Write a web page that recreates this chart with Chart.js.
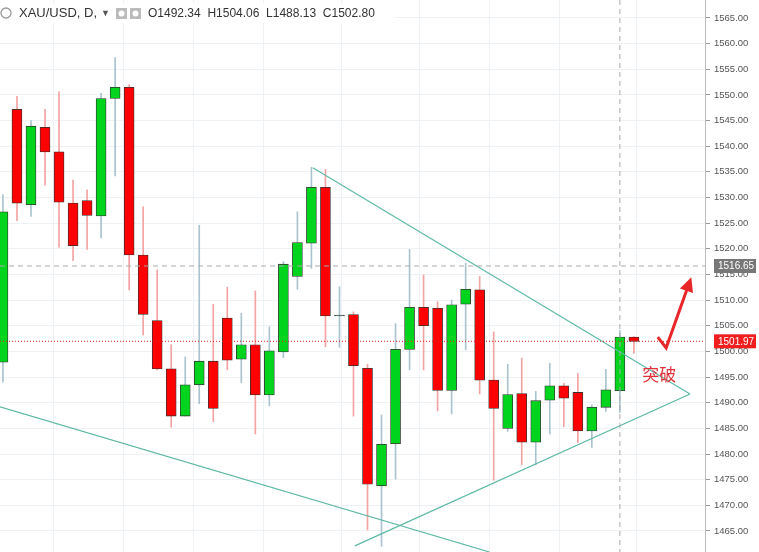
<!DOCTYPE html>
<html><head><meta charset="utf-8">
<script src="https://cdn.jsdelivr.net/npm/chart.js@4"></script>
<style>html,body{margin:0;padding:0;background:#fff}#w{width:759px;height:552px;position:relative}</style>
</head><body><div id="w"><canvas id="c"></canvas></div>
<script>
const opens  = [1497.9,1547.2,1528.6,1543.7,1538.9,1528.9,1529.4,1526.4,1549.3,1551.5,1518.8,1506.0,1496.6,1487.4,1493.5,1498.1,1506.5,1498.5,1501.3,1491.5,1499.9,1514.6,1521.1,1532.0,1507.0,1507.2,1496.7,1473.8,1482.0,1500.4,1508.6,1508.4,1492.4,1509.2,1512.0,1494.4,1485.0,1491.8,1482.3,1490.5,1493.3,1492.0,1484.5,1489.1,1492.34,1502.80];
const closes = [1527.2,1528.9,1543.9,1538.9,1529.1,1520.6,1526.5,1549.3,1551.5,1518.8,1507.2,1496.6,1487.4,1493.5,1498.1,1488.9,1498.3,1501.3,1491.5,1500.1,1517.0,1521.2,1532.0,1506.9,1507.0,1497.2,1474.1,1481.9,1500.4,1508.6,1505.0,1492.4,1509.1,1512.1,1494.4,1488.9,1491.6,1482.3,1490.4,1493.3,1490.9,1484.5,1489.1,1492.5,1502.80,1501.97];
const highs  = [1530.5,1549.7,1545.0,1547.2,1550.6,1533.4,1531.5,1550.3,1557.3,1552.0,1528.2,1515.9,1501.3,1498.9,1524.6,1509.2,1512.5,1507.4,1511.8,1504.8,1517.5,1527.2,1535.9,1535.5,1512.6,1507.7,1497.5,1487.6,1505.4,1519.9,1514.9,1509.7,1510.0,1517.2,1514.6,1503.8,1497.5,1498.7,1492.2,1497.7,1493.8,1495.7,1489.6,1496.5,1504.06,1502.9];
const lows   = [1494.0,1525.5,1526.3,1532.4,1520.3,1517.7,1519.9,1522.1,1534.2,1512.0,1503.2,1496.4,1485.2,1487.4,1489.8,1486.3,1496.4,1493.9,1483.9,1489.4,1498.8,1512.1,1516.2,1500.9,1500.8,1487.4,1465.2,1462.0,1475.1,1496.4,1496.4,1488.4,1487.8,1500.3,1491.7,1474.9,1484.4,1477.9,1477.9,1483.9,1485.3,1482.2,1481.3,1488.3,1488.13,1499.6];
const upperLine = [{x:22.1,y:1535.8},{x:49.0,y:1491.7}];
const lowerLine = [{x:25.1,y:1462.1},{x:49.0,y:1491.7}];
const longLine  = [{x:-0.21,y:1489.2},{x:34.7,y:1460.9}];
const arrowPts  = [{x:46.7,y:1502.8},{x:47.3,y:1500.7},{x:48.9,y:1513.0}];
const lastPrice = 1501.97, markPrice = 1516.65, markIndex = 44;
const yTicks = [];for(let v=1465;v<=1565;v+=5)yTicks.push(v);

const bodyColors = opens.map((o,i)=> closes[i]>o?'#00d41c':(closes[i]<o?'#ff0000':'#2f5f4f'));
const wickColors = opens.map((o,i)=> closes[i]>=o?'#a9c4cf':'#f4a3a3');
const bodies = opens.map((o,i)=>({x:i,y: Math.abs(o-closes[i])<0.2?[o-0.1,o+0.1]:[o,closes[i]]}));
const wicks = opens.map((o,i)=>({x:i,y:[lows[i],highs[i]]}));

const overlay = {id:'ov',
 afterDatasetsDraw(ch){
  const c=ch.ctx,xs=ch.scales.x,ys=ch.scales.y,a=ch.chartArea;
  c.save();
  c.setLineDash([5,4]);c.strokeStyle='#aaa';c.lineWidth=1;
  let y=ys.getPixelForValue(markPrice);
  c.beginPath();c.moveTo(a.left,y);c.lineTo(a.right,y);c.stroke();
  let x=xs.getPixelForValue(markIndex);
  c.beginPath();c.moveTo(x,a.top);c.lineTo(x,a.bottom);c.stroke();
  c.setLineDash([1,2]);c.strokeStyle='#e0201c';
  y=ys.getPixelForValue(lastPrice);
  c.beginPath();c.moveTo(a.left,y);c.lineTo(a.right,y);c.stroke();
  c.setLineDash([]);
  const p1=arrowPts[1],p2=arrowPts[2];
  const x1=xs.getPixelForValue(p1.x),y1=ys.getPixelForValue(p1.y),x2=xs.getPixelForValue(p2.x),y2=ys.getPixelForValue(p2.y);
  const ang=Math.atan2(y2-y1,x2-x1);
  c.fillStyle='#e8262a';c.beginPath();
  const tx=x2+Math.cos(ang)*8,ty=y2+Math.sin(ang)*8;
  c.moveTo(tx,ty);
  c.lineTo(tx-Math.cos(ang-0.45)*16,ty-Math.sin(ang-0.45)*16);
  c.lineTo(tx-Math.cos(ang+0.45)*16,ty-Math.sin(ang+0.45)*16);
  c.closePath();c.fill();
  c.fillStyle='#e0313a';c.font='17px "Noto Sans CJK SC"';c.textBaseline='middle';
  c.fillText('突破',xs.getPixelForValue(45.6),ys.getPixelForValue(1495.5));
  c.font='10px "Liberation Sans", Arial';
  const box=(v,col,txt)=>{const yy=ys.getPixelForValue(v);c.fillStyle=col;c.fillRect(a.right+9,yy-7,42,14);c.fillStyle=txt;c.fillText(v.toFixed(2),a.right+13,yy+0.5);};
  box(markPrice,'#777','#fff');box(lastPrice,'#f01e1e','#fff');
  c.strokeStyle='#bbb';c.beginPath();c.moveTo(a.right+0.5,0);c.lineTo(a.right+0.5,552);c.stroke();
  c.fillStyle='#fff';c.fillRect(0,3,395,20);
  c.strokeStyle='#999';c.lineWidth=1.3;c.beginPath();c.arc(6,13,5,0,Math.PI*2);c.stroke();
  c.fillStyle='#333';c.font='13px "Liberation Sans", Arial';c.textBaseline='middle';
  c.fillText('XAU/USD, D, ',19,13);
  c.fillStyle='#555';c.font='9px "Liberation Sans", Arial';c.fillText('▼',101,14);
  c.fillStyle='#bbb';c.fillRect(116,8,11,11);c.fillRect(130,8,11,11);
  c.fillStyle='#fff';c.beginPath();c.arc(121.5,13.5,3,0,7);c.fill();c.beginPath();c.arc(135.5,13.5,3,0,7);c.fill();
  c.fillStyle='#333';c.font='12px "Liberation Sans", Arial';
  c.fillText('O1492.34  H1504.06  L1488.13  C1502.80',148,14);
  c.restore();
 }};

new Chart(document.getElementById('c'),{
 data:{datasets:[
  {type:'bar',data:wicks,backgroundColor:wickColors,barThickness:1,grouped:false,order:3},
  {type:'bar',data:bodies,backgroundColor:bodyColors,borderColor:'#333',borderWidth:0.8,borderSkipped:false,barThickness:10,grouped:false,order:2},
  {type:'line',data:upperLine,borderColor:'#5fb8a6',borderWidth:1.2,pointRadius:0,order:1},
  {type:'line',data:lowerLine,borderColor:'#5fb8a6',borderWidth:1.2,pointRadius:0,order:1},
  {type:'line',data:longLine,borderColor:'#5fb8a6',borderWidth:1.2,pointRadius:0,order:1},
  {type:'line',data:arrowPts,borderColor:'#e8262a',borderWidth:3,pointRadius:0,order:0}
 ]},
 options:{responsive:true,maintainAspectRatio:false,animation:false,
  layout:{padding:0},
  plugins:{legend:{display:false},tooltip:{enabled:false}},
  scales:{
   x:{type:'linear',min:-0.21,max:50.07,offset:false,border:{display:false},
      afterBuildTicks(s){s.ticks=[1.1,6.1,11.1,16.1,21.1,27.2,32.2,37.2,42.2,48.2].map(v=>({value:v}));},
      afterFit(s){s.height=0;s.paddingLeft=0;s.paddingRight=0;},
      ticks:{display:false},grid:{color:'#eef2f4',drawTicks:false}},
   y:{position:'right',min:1460.9,max:1568.5,border:{display:false},
      afterBuildTicks(s){s.ticks=yTicks.map(v=>({value:v}));},
      afterFit(s){s.width=54;s.paddingTop=0;s.paddingBottom=0;},
      ticks:{color:'#555',font:{size:9.5,family:'"Liberation Sans", Arial'},padding:4,callback:v=>v.toFixed(2)},
      grid:{color:'#eef2f4',tickLength:5,tickColor:'#999'}}
  }},
 plugins:[overlay]});
</script></body></html>
